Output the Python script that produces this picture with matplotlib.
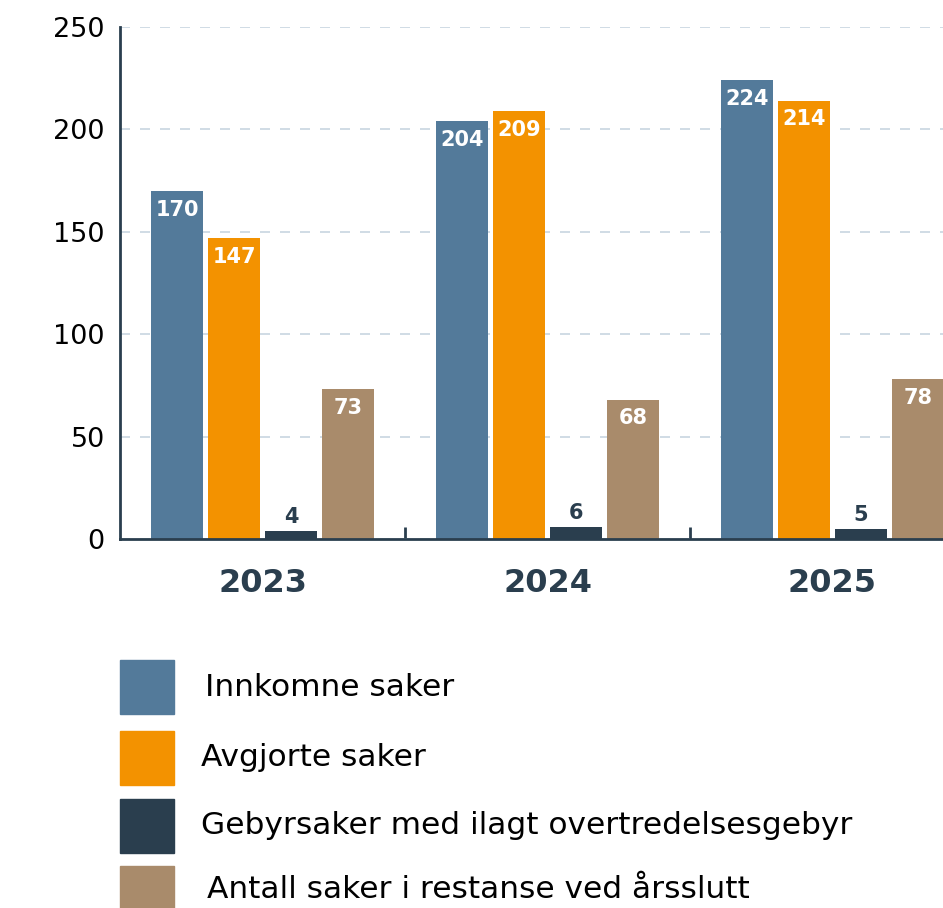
import matplotlib
matplotlib.use("Agg")
import matplotlib.pyplot as plt
from matplotlib.patches import Rectangle
import numpy as np

plt.rcParams['font.family'] = ['DejaVu Sans']

years = ["2023", "2024", "2025"]
series = ["Innkomne saker", "Avgjorte saker",
          "Gebyrsaker med ilagt overtredelsesgebyr",
          "Antall saker i restanse ved årsslutt"]
innkomne = [170, 204, 224]
avgjorte = [147, 209, 214]
gebyr = [4, 6, 5]
restanse = [73, 68, 78]
yticks = [0, 50, 100, 150, 200, 250]

colors = ["#537a9a", "#f39200", "#2a3e4e", "#a98b6b"]
dark = "#2a3e4e"

W, H = 943, 908
fig = plt.figure(figsize=(W / 100, H / 100), dpi=100)
# axes run past the right edge, as in the reference
ax = fig.add_axes([120 / W, (H - 539) / H, 855 / W, 512 / H])

x = np.arange(len(years))
width = 0.1825
step = 0.2
all_vals = [innkomne, avgjorte, gebyr, restanse]
for i, vals in enumerate(all_vals):
    pos = x + (i - 1.5) * step
    bars = ax.bar(pos, vals, width, color=colors[i], zorder=3)
    for b, v in zip(bars, vals):
        cx = b.get_x() + b.get_width() / 2
        if v > 20:
            ax.annotate(str(v), (cx, v), xytext=(0, -13.5), textcoords="offset points",
                        ha="center", va="center", color="white",
                        fontsize=15, fontweight="bold", zorder=4)
        else:
            ax.annotate(str(v), (cx, v), xytext=(0, 10), textcoords="offset points",
                        ha="center", va="center", color=dark,
                        fontsize=15, fontweight="bold", zorder=4)

ax.set_xlim(-0.5, 2.5)
ax.set_ylim(0, 250)
ax.set_yticks(yticks)
ax.set_yticklabels([str(t) for t in yticks], fontsize=19.5, color="black")
ax.tick_params(axis="y", length=0, pad=11)
ax.set_xticks(x)
ax.set_xticklabels(years, fontsize=23, fontweight="bold", color=dark)
ax.tick_params(axis="x", which="major", length=0, pad=21)
ax.set_xticks([0.5, 1.5], minor=True)
ax.tick_params(axis="x", which="minor", direction="in", length=9, width=2, color=dark)

ax.yaxis.grid(True, linestyle=(0, (6, 6)), color="#c8d6e0", linewidth=1.2, zorder=0)
for s in ["top", "right"]:
    ax.spines[s].set_visible(False)
for s in ["left", "bottom"]:
    ax.spines[s].set_color(dark)
    ax.spines[s].set_linewidth(2)
    ax.spines[s].set_zorder(5)

box_top = [660, 731, 799, 866]
text_y = [687, 757, 826, 889]
text_x = [205, 201, 201, 207]
for i, name in enumerate(series):
    fig.add_artist(Rectangle((120 / W, (H - box_top[i] - 54) / H), 54 / W, 54 / H,
                             transform=fig.transFigure, color=colors[i]))
    fig.text(text_x[i] / W, (H - text_y[i]) / H, name, fontsize=22.5, color="black",
             va="center", ha="left")

fig.savefig("out.png", dpi=100)
